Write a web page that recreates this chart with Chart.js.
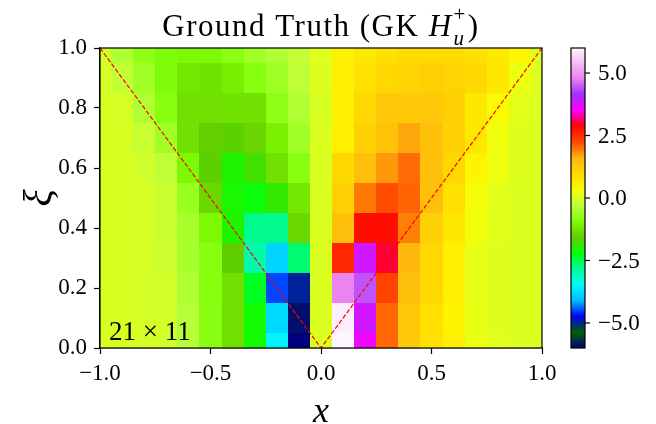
<!DOCTYPE html>
<html>
<head>
<meta charset="utf-8">
<script src="https://cdn.jsdelivr.net/npm/chart.js@4"></script>
<style>
  body { margin: 0; background: #fff; }
  canvas { display: block; }
</style>
</head>
<body>
<canvas id="grafico" width="656" height="424"></canvas>
<script>
// grid coordinates
const xValues = [-1.0, -0.9, -0.8, -0.7, -0.6, -0.5, -0.4, -0.3, -0.2, -0.1, 0.0,
                 0.1, 0.2, 0.3, 0.4, 0.5, 0.6, 0.7, 0.8, 0.9, 1.0];
const xiValues = [0.0, 0.1, 0.2, 0.3, 0.4, 0.5, 0.6, 0.7, 0.8, 0.9, 1.0];

// H_u^+ values, one row per xi (from xi = 0 up to xi = 1)
const hValues = [
  [0.00, 0.00, -0.03, -0.08, -0.34, -0.80, -1.32, -2.15, -3.52, -6.00, 0.02, 6.00, 3.60, 2.05, 1.31, 0.85, 0.55, 0.20, 0.08, 0.03, 0.03],
  [0.00, 0.00, -0.03, -0.08, -0.34, -0.80, -1.32, -2.15, -3.82, -5.90, 0.02, 5.90, 3.82, 2.05, 1.31, 0.85, 0.47, 0.15, 0.06, 0.03, 0.03],
  [0.00, 0.00, -0.03, -0.08, -0.42, -0.84, -1.32, -2.30, -4.50, -4.97, 0.02, 4.82, 4.42, 2.27, 1.46, 1.00, 0.55, 0.15, 0.06, 0.03, 0.03],
  [0.00, 0.00, -0.03, -0.13, -0.50, -0.84, -1.58, -2.95, -3.86, -2.65, 0.02, 2.55, 3.82, 2.98, 1.58, 1.00, 0.55, 0.15, 0.06, 0.03, 0.03],
  [0.00, 0.00, -0.03, -0.18, -0.50, -0.95, -2.05, -2.78, -2.78, -1.45, 0.02, 1.46, 2.80, 2.80, 1.91, 1.15, 0.70, 0.25, 0.10, 0.03, 0.03],
  [0.00, 0.00, -0.03, -0.18, -0.66, -1.45, -2.10, -2.20, -1.92, -1.20, 0.02, 1.15, 1.95, 2.20, 2.07, 1.46, 0.85, 0.30, 0.10, 0.03, 0.03],
  [0.00, 0.00, -0.08, -0.26, -0.95, -1.60, -2.05, -1.80, -1.30, -0.84, 0.02, 1.00, 1.46, 1.77, 2.03, 1.46, 1.00, 0.47, 0.22, 0.06, 0.03],
  [0.00, 0.00, -0.18, -0.58, -1.30, -1.56, -1.62, -1.46, -1.08, -0.58, 0.03, 0.55, 1.15, 1.38, 1.68, 1.46, 1.15, 0.70, 0.25, 0.06, 0.03],
  [0.00, -0.03, -0.42, -0.84, -1.30, -1.32, -1.28, -1.30, -0.75, -0.42, 0.00, 0.55, 1.00, 1.31, 1.31, 1.31, 1.15, 0.70, 0.35, 0.10, 0.03],
  [0.00, -0.22, -0.58, -0.92, -1.20, -1.28, -1.10, -0.84, -0.58, -0.26, 0.05, 0.55, 0.85, 1.00, 1.08, 1.15, 1.08, 1.00, 0.70, 0.20, 0.05],
  [-0.10, -0.42, -0.75, -0.92, -0.96, -0.95, -0.80, -0.58, -0.42, -0.22, 0.08, 0.50, 0.70, 0.85, 0.92, 0.92, 0.92, 0.85, 0.70, 0.45, 0.05]
];

// colour scale limits and colorbar ticks
const vMin = -6;
const vMax = 6;
const cbTicks = [-5, -2.5, 0, 2.5, 5];

// red dashed |x| = xi boundary
const limiteX = [-1, 0, 1];
const limiteXi = [1, 0, 1];

const fonte = "'Liberation Serif', 'DejaVu Serif', serif";

// gist_ncar colormap segments
const ncar = {
  r: [[0,0],[0.3098,0],[0.3725,0.3993],[0.4235,0.5003],[0.5333,1],[0.7922,1],[0.8471,0.6218],[0.8980,0.9235],[1,0.9961]],
  g: [[0,0],[0.0510,0.3722],[0.1059,0],[0.1569,0.7202],[0.1608,0.7537],[0.1647,0.7752],[0.2157,1],[0.2588,0.9804],
      [0.2706,0.9804],[0.3176,1],[0.3686,0.8081],[0.4275,1],[0.5216,1],[0.6314,0.7292],[0.6863,0.2796],[0.7451,0],
      [0.7922,0],[0.8431,0.1753],[0.8980,0.5],[1,0.9725]],
  b: [[0,0.5020],[0.0510,0.0222],[0.1098,1],[0.2039,1],[0.2627,0.6145],[0.3216,0],[0.4157,0],[0.4745,0.2342],
      [0.5333,0],[0.5804,0],[0.6314,0.0549],[0.6902,0],[0.7373,0],[0.7922,0.9738],[0.8,1],[0.8431,1],[0.8980,0.9341],[1,0.9961]]
};

function segmento(seg, t) {
  for (let k = 1; k < seg.length; k++) {
    if (t <= seg[k][0]) {
      const [t0, c0] = seg[k - 1];
      const [t1, c1] = seg[k];
      return c0 + (c1 - c0) * (t - t0) / (t1 - t0);
    }
  }
  return seg[seg.length - 1][1];
}

function cor(v) {
  const t = Math.min(1, Math.max(0, (v - vMin) / (vMax - vMin)));
  const r = Math.round(255 * segmento(ncar.r, t));
  const g = Math.round(255 * segmento(ncar.g, t));
  const b = Math.round(255 * segmento(ncar.b, t));
  return `rgb(${r},${g},${b})`;
}

function numero(v) {
  return Number(v).toFixed(1).replace('-', '\u2212');
}

// heatmap cells, centred on the grid points and clipped to the axes
const mapaCalor = {
  id: 'mapaCalor',
  beforeDatasetsDraw(chart) {
    const {ctx, scales: {x, y}} = chart;
    const dx = (xValues[1] - xValues[0]) / 2;
    const dy = (xiValues[1] - xiValues[0]) / 2;
    ctx.save();
    hValues.forEach((linha, j) => {
      linha.forEach((v, i) => {
        const x0 = Math.round(x.getPixelForValue(Math.max(x.min, xValues[i] - dx)));
        const x1 = Math.round(x.getPixelForValue(Math.min(x.max, xValues[i] + dx)));
        const y0 = Math.round(y.getPixelForValue(Math.min(y.max, xiValues[j] + dy)));
        const y1 = Math.round(y.getPixelForValue(Math.max(y.min, xiValues[j] - dy)));
        ctx.fillStyle = cor(v);
        ctx.fillRect(x0, y0, x1 - x0, y1 - y0);
      });
    });
    ctx.restore();
  }
};

// frame, grid size note, colorbar and title
const extras = {
  id: 'extras',
  afterDraw(chart) {
    const {ctx, chartArea: a} = chart;
    ctx.save();

    ctx.strokeStyle = '#000';
    ctx.lineWidth = 1.2;
    ctx.strokeRect(a.left, a.top, a.right - a.left, a.bottom - a.top);

    ctx.fillStyle = '#000';
    ctx.font = `27px ${fonte}`;
    ctx.textBaseline = 'alphabetic';
    ctx.textAlign = 'left';
    ctx.fillText('21 \u00d7 11', a.left + 9, a.bottom - 8);

    // colorbar
    const cbLeft = a.right + 29;
    const cbWidth = 14;
    const altura = a.bottom - a.top;
    for (let py = 0; py < altura; py++) {
      const v = vMax - (py + 0.5) / altura * (vMax - vMin);
      ctx.fillStyle = cor(v);
      ctx.fillRect(cbLeft, a.top + py, cbWidth, 1);
    }
    ctx.strokeRect(cbLeft, a.top, cbWidth, altura);
    ctx.fillStyle = '#000';
    ctx.font = `23px ${fonte}`;
    ctx.textBaseline = 'middle';
    cbTicks.forEach(t => {
      const py = a.bottom - (t - vMin) / (vMax - vMin) * altura;
      ctx.beginPath();
      ctx.moveTo(cbLeft + cbWidth, py);
      ctx.lineTo(cbLeft + cbWidth + 5, py);
      ctx.stroke();
      ctx.fillText(numero(t), cbLeft + cbWidth + 13, py + 1);
    });

    // title with H_u^+
    const partes = [
      {txt: 'Ground Truth (GK ', font: `31px ${fonte}`},
      {txt: 'H', font: `italic 31px ${fonte}`},
      {txt: 'u', font: `italic 21px ${fonte}`, dy: 9, pilha: true},
      {txt: '+', font: `21px ${fonte}`, dy: -15, pilha: true},
      {txt: ')', font: `31px ${fonte}`}
    ];
    ctx.textBaseline = 'alphabetic';
    ctx.letterSpacing = '1.5px';
    let largura = 0;
    let pilhaMax = 0;
    partes.forEach(p => {
      ctx.font = p.font;
      p.w = ctx.measureText(p.txt).width;
      if (p.pilha) pilhaMax = Math.max(pilhaMax, p.w);
      else largura += p.w;
    });
    largura += pilhaMax + 2;
    let cx = (a.left + a.right) / 2 - largura / 2;
    const base = 36;
    partes.forEach(p => {
      ctx.font = p.font;
      if (p.pilha) {
        ctx.fillText(p.txt, cx + 1, base + p.dy);
      } else {
        if (p.txt === ')') cx += pilhaMax + 2;
        ctx.fillText(p.txt, cx, base);
        cx += p.w;
      }
    });

    ctx.restore();
  }
};

const grafico = document.getElementById('grafico');

new Chart(grafico, {
  type: 'scatter',
  data: {
    datasets: [{
      data: limiteX.map((x, k) => ({x: x, y: limiteXi[k]})),
      showLine: true,
      borderColor: '#ff0000',
      borderWidth: 1.2,
      borderDash: [4.5, 2],
      pointRadius: 0,
      fill: false
    }]
  },
  options: {
    responsive: false,
    animation: false,
    events: [],
    layout: {
      padding: {left: 0, right: 114, top: 48, bottom: 0}
    },
    plugins: {
      legend: {display: false},
      tooltip: {enabled: false}
    },
    scales: {
      x: {
        type: 'linear',
        min: -1,
        max: 1,
        afterFit: s => { s.height = 76; },
        ticks: {
          stepSize: 0.5,
          color: '#000',
          padding: 6,
          maxRotation: 0,
          font: {family: fonte, size: 23},
          callback: v => numero(v)
        },
        grid: {drawOnChartArea: false, drawTicks: true, tickLength: 6, tickColor: '#000', tickWidth: 1.2},
        border: {display: true, color: '#000', width: 1.2},
        title: {
          display: true,
          text: 'x',
          color: '#000',
          font: {family: fonte, size: 36, style: 'italic', lineHeight: 0.6},
          padding: {top: 0, bottom: 1}
        }
      },
      y: {
        type: 'linear',
        min: 0,
        max: 1,
        afterFit: s => { s.width = 100; },
        ticks: {
          stepSize: 0.2,
          color: '#000',
          padding: 7,
          font: {family: fonte, size: 23},
          callback: v => numero(v)
        },
        grid: {drawOnChartArea: false, drawTicks: true, tickLength: 6, tickColor: '#000', tickWidth: 1.2},
        border: {display: true, color: '#000', width: 1.2},
        title: {
          display: true,
          text: '\u03be',
          color: '#000',
          font: {family: fonte, size: 40, style: 'italic', lineHeight: 1},
          padding: {top: 20, bottom: 0}
        }
      }
    }
  },
  plugins: [mapaCalor, extras]
});
</script>
</body>
</html>
